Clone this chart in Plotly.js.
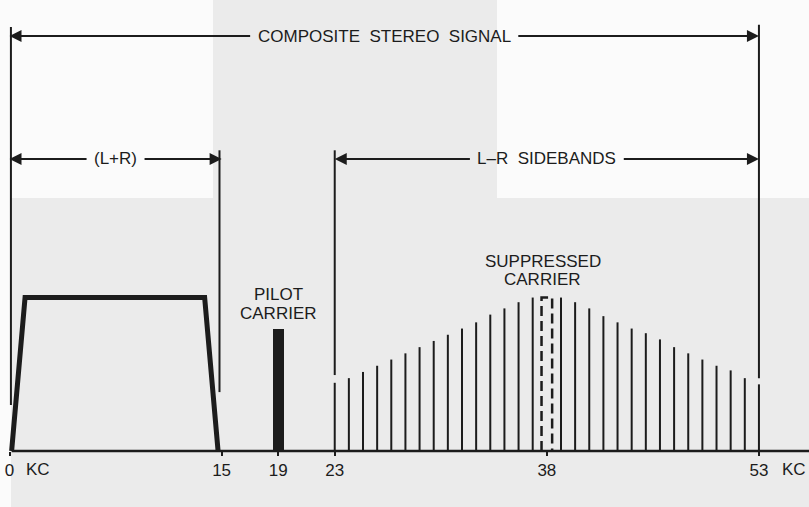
<!DOCTYPE html>
<html><head><meta charset="utf-8">
<script src="https://cdn.plot.ly/plotly-3.0.1.min.js"></script>
<style>html,body{margin:0;padding:0;background:#ebebeb;}</style>
</head><body>
<div id="chart" style="width:809px;height:507px;"></div>
<script>
// ---------- DATA (frequencies in kHz, levels in relative units) ----------
const tickValues = [0, 15, 19, 23, 38, 53];
const tickLabels = ['0', '15', '19', '23', '38', '53'];
const unitLabel = 'KC';

// L+R (mono) band outline
const lrX = [0.15, 1.1, 13.8, 14.75];
const lrY = [0, 99, 99, 0];

// Pilot carrier
const pilotFreq = 19;
const pilotLevel = 79;
const pilotWidth = 0.78;
const pilotText = ['PILOT', 'CARRIER'];

// Suppressed carrier (dashed)
const carrierFreq = 38;
const carrierLevel = 99;
const carrierWidth = 0.75;
const carrierText = ['SUPPRESSED', 'CARRIER'];

// L-R sideband components
const sidebandFreqs = [23, 24, 25, 26, 27, 28, 29, 30, 31, 32, 33, 34, 35, 36, 37,
                       39, 40, 41, 42, 43, 44, 45, 46, 47, 48, 49, 50, 51, 52, 53];
const sidebandLevels = [44, 47, 51, 55, 59, 63, 67, 71, 75, 79, 83, 88, 92, 96, 99,
                        99, 96, 92, 87, 83, 79, 76, 72, 67, 63, 59, 55, 52, 47, 43];

// Extension (witness) lines
const extFreqs = [0.1, 14.85, 23, 53];
const extTop = [273.5, 194, 194, 275];
const extBottom = [29.7, 38, 49, 47];

// Dimension arrows
const dimLabels = ['COMPOSITE\u00a0\u00a0STEREO\u00a0\u00a0SIGNAL', '(L+R)', 'L\u2013R\u00a0\u00a0SIDEBANDS'];
const dimFrom = [0, 0, 23];
const dimTo = [53, 15, 53];
const dimLevel = [267.7, 188.4, 188.4];

// ---------- LAYOUT / STYLE ----------
const W = 809, H = 507;
const xRange = [-0.672, 56.54];
const yRange = [-36.13, 290.97];
const ink = '#1c1c1c';
const fontFam = 'Liberation Sans';
const fs = 17;
const pxPerX = W / (xRange[1] - xRange[0]);

const ctx = document.createElement('canvas').getContext('2d');
ctx.font = fs + 'px "Liberation Sans"';

const traces = [];
// baseline
traces.push({x: [lrX[0], xRange[1]], y: [0, 0], mode: 'lines', line: {color: ink, width: 2.5}, hoverinfo: 'skip'});
// L+R trapezoid
traces.push({x: lrX, y: lrY, mode: 'lines', line: {color: ink, width: 5}, hoverinfo: 'skip'});
// pilot bar
traces.push({type: 'bar', x: [pilotFreq], y: [pilotLevel], width: [pilotWidth], marker: {color: ink, line: {width: 0}}, hoverinfo: 'skip'});
// sidebands
const sx = [], sy = [];
sidebandFreqs.forEach((f, i) => { sx.push(f, f, null); sy.push(0, sidebandLevels[i], null); });
traces.push({x: sx, y: sy, mode: 'lines', line: {color: ink, width: 2}, hoverinfo: 'skip'});
// suppressed carrier dashed outline
const c0 = carrierFreq - carrierWidth / 2, c1 = carrierFreq + carrierWidth / 2;
traces.push({x: [c0, c0, c1, c1], y: [0, carrierLevel, carrierLevel, 0], mode: 'lines',
  line: {color: ink, width: 2.5, dash: '10px,5px'}, hoverinfo: 'skip'});
// extension lines
const ex = [], ey = [];
extFreqs.forEach((f, i) => { ex.push(f, f, null); ey.push(extBottom[i], extTop[i], null); });
traces.push({x: ex, y: ey, mode: 'lines', line: {color: ink, width: 2}, hoverinfo: 'skip'});

const annotations = [];
const tfont = {family: fontFam, size: fs, color: ink};
dimLabels.forEach((lab, i) => {
  const mid = (dimFrom[i] + dimTo[i]) / 2;
  const half = (ctx.measureText(lab).width / 2 + 6) / pxPerX;
  annotations.push({x: mid, y: dimLevel[i], xref: 'x', yref: 'y', text: lab, showarrow: false,
    font: tfont, xanchor: 'center', yanchor: 'middle'});
  annotations.push({x: dimFrom[i], y: dimLevel[i], ax: mid - half, ay: dimLevel[i], xref: 'x', yref: 'y',
    axref: 'x', ayref: 'y', text: '', showarrow: true, arrowhead: 2, arrowsize: 1.2, arrowwidth: 2, arrowcolor: ink, standoff: 0});
  annotations.push({x: dimTo[i], y: dimLevel[i], ax: mid + half, ay: dimLevel[i], xref: 'x', yref: 'y',
    axref: 'x', ayref: 'y', text: '', showarrow: true, arrowhead: 2, arrowsize: 1.2, arrowwidth: 2, arrowcolor: ink, standoff: 0});
});
pilotText.forEach((t, i) => {
  annotations.push({x: pilotFreq, y: pilotLevel, xref: 'x', yref: 'y', text: t, showarrow: false, font: tfont,
    xanchor: 'center', yanchor: 'middle', yshift: 34 - i * 18.5});
});
carrierText.forEach((t, i) => {
  annotations.push({x: carrierFreq, y: carrierLevel, xref: 'x', yref: 'y', text: t, showarrow: false, font: tfont,
    xanchor: 'center', yanchor: 'middle', xshift: -4, yshift: 36 - i * 18});
});
// unit labels
annotations.push({x: tickValues[0], y: 0, xref: 'x', yref: 'y', text: unitLabel, showarrow: false, font: tfont,
  xanchor: 'left', yanchor: 'top', xshift: 14, yshift: -7});
annotations.push({x: tickValues[tickValues.length - 1], y: 0, xref: 'x', yref: 'y', text: unitLabel, showarrow: false, font: tfont,
  xanchor: 'left', yanchor: 'top', xshift: 21, yshift: -7});

const shapes = [
  {type: 'rect', xref: 'paper', yref: 'paper', x0: 0, x1: 213 / W, y0: 1 - 198 / H, y1: 1, fillcolor: '#fbfbfb', line: {width: 0}, layer: 'below'},
  {type: 'rect', xref: 'paper', yref: 'paper', x0: 497 / W, x1: 1, y0: 1 - 198 / H, y1: 1, fillcolor: '#fbfbfb', line: {width: 0}, layer: 'below'},
  {type: 'rect', xref: 'paper', yref: 'paper', x0: 0, x1: 11 / W, y0: 0, y1: 1, fillcolor: '#fbfbfb', line: {width: 0}, layer: 'below'}
];

const layout = {
  width: W, height: H,
  margin: {l: 0, r: 0, t: 0, b: 0, pad: 0},
  paper_bgcolor: '#ebebeb', plot_bgcolor: 'rgba(0,0,0,0)',
  font: {family: fontFam, size: fs, color: ink},
  showlegend: false,
  xaxis: {range: xRange, anchor: 'free', position: 56 / H, showgrid: false, zeroline: false, showline: false,
    tickmode: 'array', tickvals: tickValues, ticktext: tickLabels, ticks: 'outside', ticklen: 4, tickwidth: 2,
    tickcolor: ink, tickfont: tfont, ticklabelstandoff: 0, fixedrange: true},
  yaxis: {range: yRange, visible: false, showgrid: false, zeroline: false, fixedrange: true},
  annotations: annotations,
  shapes: shapes,
  bargap: 0
};

Plotly.newPlot('chart', traces, layout, {displayModeBar: false, staticPlot: true});
</script>
</body></html>
